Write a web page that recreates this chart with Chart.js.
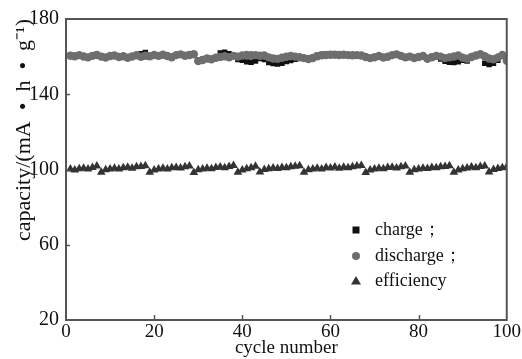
<!DOCTYPE html>
<html>
<head>
<meta charset="utf-8">
<script src="https://cdn.jsdelivr.net/npm/chart.js@4/dist/chart.umd.min.js"></script>
<style>
  html, body { margin: 0; padding: 0; background: #fff; }
  #wrap { width: 522px; height: 359px; }
</style>
</head>
<body>
<div id="wrap"><canvas id="capChart" width="522" height="359"></canvas></div>
<script>
// cycle numbers 1..100
const cycles = [
  1,2,3,4,5,6,7,8,9,10,11,12,13,14,15,16,17,18,19,20,
  21,22,23,24,25,26,27,28,29,30,31,32,33,34,35,36,37,38,39,40,
  41,42,43,44,45,46,47,48,49,50,51,52,53,54,55,56,57,58,59,60,
  61,62,63,64,65,66,67,68,69,70,71,72,73,74,75,76,77,78,79,80,
  81,82,83,84,85,86,87,88,89,90,91,92,93,94,95,96,97,98,99,100
];

const charge = [
  160.8,160.5,161.0,160.3,159.9,160.6,161.1,160.2,159.8,160.5,
  160.8,160.0,160.4,159.7,160.3,160.9,161.5,162.2,160.4,161.0,
  160.6,161.2,160.5,159.9,160.9,161.4,160.7,161.1,161.0,158.2,
  158.6,159.2,158.8,159.6,162.0,162.4,161.5,160.6,158.5,158.0,
  157.2,157.0,157.6,159.0,158.4,156.8,156.3,156.1,156.5,157.4,
  157.9,158.6,159.3,159.0,158.9,159.5,160.8,161.2,161.3,161.4,
  161.2,161.1,161.0,160.9,160.8,160.9,160.7,160.0,159.4,159.9,
  160.5,159.7,160.1,160.9,161.3,160.5,159.8,160.2,159.5,159.9,
  160.4,159.1,159.5,159.8,158.7,157.5,157.0,156.8,157.3,158.0,
  157.6,159.9,160.4,160.8,156.5,155.8,156.4,158.0,160.5,157.8
];

const discharge = [
  160.5,160.2,160.8,160.1,159.6,160.4,160.9,160.0,159.5,160.3,
  160.6,159.8,160.2,159.4,160.1,160.7,159.9,160.5,160.2,160.9,
  160.4,161.0,160.3,159.7,160.8,161.2,160.5,160.9,161.3,157.6,
  158.2,159.0,158.6,159.4,159.8,160.2,159.7,160.4,160.0,160.6,
  160.9,160.7,160.8,160.5,160.6,159.6,159.0,158.8,159.4,159.9,
  160.3,160.0,159.7,159.2,158.7,159.3,160.2,160.7,160.9,161.0,
  161.0,160.9,161.0,160.8,160.7,160.8,160.6,159.8,159.2,159.7,
  160.3,159.5,159.9,160.8,161.2,160.4,159.6,160.0,159.3,159.8,
  160.3,158.9,159.7,160.4,160.0,159.2,159.6,160.1,160.6,159.4,
  158.9,159.8,160.6,161.3,160.2,159.0,158.6,159.5,160.9,157.8
];

const efficiency = [
  100.2,99.8,100.4,100.7,100.3,101.0,101.9,98.6,99.9,100.3,
  100.6,100.2,100.9,101.2,100.7,101.4,101.6,102.0,98.5,99.8,
  100.2,100.6,100.3,100.9,101.1,100.8,101.5,101.9,98.4,99.9,
  100.3,100.7,100.4,101.0,101.3,100.9,101.6,102.1,98.6,99.8,
  100.4,100.9,101.7,98.7,100.0,100.4,100.8,100.5,101.1,100.9,
  101.4,101.7,102.0,98.5,99.9,100.3,100.7,100.2,101.0,100.8,
  101.3,100.6,101.2,100.9,101.5,101.8,102.1,98.4,99.8,100.3,
  100.6,100.4,101.0,101.2,100.8,101.5,101.9,98.6,99.9,100.2,
  100.7,100.5,101.1,100.9,101.4,101.6,102.0,98.5,99.8,100.4,
  100.8,101.3,100.9,101.6,101.9,98.7,100.0,100.5,100.9,101.5
];

const xTicks = [0, 20, 40, 60, 80, 100];
const yTicks = [20, 60, 100, 140, 180];
const seriesNames = ["charge；", "discharge；", "efficiency"];

const FONT = "'Liberation Serif', 'Times New Roman', serif";
const FRAME = "#555";

function pts(ys) {
  return cycles.map((c, i) => ({ x: c, y: ys[i] }));
}

// frame, inward ticks and the in-plot legend
const framePlugin = {
  id: "frame",
  afterDatasetsDraw(chart) {
    const { ctx, chartArea: a, scales } = chart;
    ctx.save();
    ctx.strokeStyle = FRAME;
    ctx.lineWidth = 2;
    ctx.strokeRect(a.left, a.top, a.right - a.left, a.bottom - a.top);

    ctx.lineWidth = 1.5;
    ctx.beginPath();
    xTicks.slice(1, -1).forEach(v => {
      const x = Math.round(scales.x.getPixelForValue(v)) + 0.5;
      ctx.moveTo(x, a.bottom);
      ctx.lineTo(x, a.bottom - 5);
    });
    yTicks.slice(1, -1).forEach(v => {
      const y = Math.round(scales.y.getPixelForValue(v)) + 0.5;
      ctx.moveTo(a.left, y);
      ctx.lineTo(a.left + 4, y);
    });
    ctx.stroke();

    // legend
    const lx = 356, ly = [230, 256, 281];
    chart.data.datasets.forEach((ds, i) => {
      const y = ly[i];
      ctx.fillStyle = ds.backgroundColor;
      ctx.beginPath();
      if (ds.pointStyle === "rect") {
        ctx.rect(lx - 3.5, y - 3.5, 7, 7);
      } else if (ds.pointStyle === "circle") {
        ctx.arc(lx, y, 4, 0, Math.PI * 2);
      } else {
        ctx.moveTo(lx, y - 5);
        ctx.lineTo(lx + 5, y + 3.5);
        ctx.lineTo(lx - 5, y + 3.5);
        ctx.closePath();
      }
      ctx.fill();
      ctx.fillStyle = "#111";
      ctx.font = "18px " + FONT;
      ctx.textBaseline = "middle";
      ctx.textAlign = "left";
      ctx.fillText(ds.label, lx + 19, y);
    });
    ctx.restore();
  }
};

const chart = new Chart(document.getElementById("capChart"), {
  type: "scatter",
  data: {
    datasets: [
      {
        label: seriesNames[0],
        data: pts(charge),
        pointStyle: "rect",
        pointRadius: 3.8,
        backgroundColor: "#111",
        borderColor: "#111",
        borderWidth: 0,
        order: 2
      },
      {
        label: seriesNames[1],
        data: pts(discharge),
        pointStyle: "circle",
        pointRadius: 4.2,
        backgroundColor: "#6e6e6e",
        borderColor: "#6e6e6e",
        borderWidth: 0,
        order: 1
      },
      {
        label: seriesNames[2],
        data: pts(efficiency),
        pointStyle: "triangle",
        pointRadius: 5,
        backgroundColor: "#333",
        borderColor: "#333",
        borderWidth: 0,
        order: 0
      }
    ]
  },
  plugins: [framePlugin],
  options: {
    responsive: false,
    animation: false,
    layout: { padding: { top: 19, right: 14, left: 0, bottom: 0 } },
    plugins: { legend: { display: false }, tooltip: { enabled: false } },
    scales: {
      x: {
        type: "linear",
        min: 0,
        max: 100,
        afterBuildTicks: s => { s.ticks = xTicks.map(v => ({ value: v })); },
        afterFit: s => { s.height = 39; },
        grid: { display: false, drawTicks: false },
        border: { display: false },
        ticks: { color: "#111", padding: 1, maxRotation: 0, font: { family: FONT, size: 19 } },
        title: {
          display: true,
          text: "cycle number",
          color: "#111",
          padding: { top: 0, bottom: 0 },
          font: { family: FONT, size: 19 }
        }
      },
      y: {
        min: 20,
        max: 180,
        afterBuildTicks: s => { s.ticks = yTicks.map(v => ({ value: v })); },
        afterFit: s => { s.width = 66; },
        grid: { display: false, drawTicks: false },
        border: { display: false },
        ticks: { color: "#111", padding: 7, font: { family: FONT, size: 20 } },
        title: {
          display: true,
          align: "end",
          text: "capacity/(mA  •  h  •  g⁻¹)",
          color: "#111",
          padding: { top: 11, bottom: 0 },
          font: { family: FONT, size: 22 }
        }
      }
    }
  }
});
</script>
</body>
</html>
